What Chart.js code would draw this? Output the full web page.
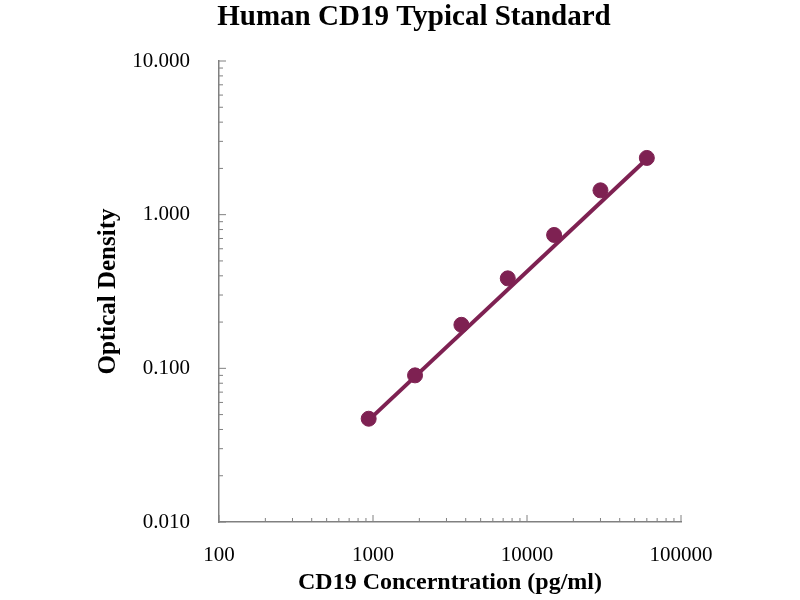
<!DOCTYPE html>
<html>
<head>
<meta charset="utf-8">
<script src="https://cdn.jsdelivr.net/npm/chart.js@4/dist/chart.umd.min.js"></script>
<style>
  html, body { margin: 0; padding: 0; background: #fff; }
</style>
</head>
<body>
<canvas id="grafica" width="800" height="600"></canvas>
<script>
// valores
const concentracion = [937.5, 1875, 3750, 7500, 15000, 30000, 60000];
const densidad = [0.047, 0.090, 0.192, 0.385, 0.738, 1.44, 2.34];
const tendenciaConc = [937.5, 60000];
const tendenciaOD = [0.046, 2.30];

const titulo = 'Human CD19 Typical Standard';
const tituloX = 'CD19 Concerntration (pg/ml)';
const tituloY = 'Optical Density';

const color = '#7e2152';
const serif = '"Liberation Serif", "Times New Roman", serif';

function esPotencia(v) {
  const l = Math.log10(v);
  return Math.abs(l - Math.round(l)) < 1e-9;
}

// marcas hacia adentro, como en el original
const marcasInternas = {
  id: 'marcasInternas',
  afterDraw(chart) {
    const { ctx, chartArea, scales } = chart;
    ctx.save();
    ctx.strokeStyle = '#808080';
    ctx.lineWidth = 1;
    const dibujar = (scale, vertical) => {
      const lo = Math.floor(Math.log10(scale.min));
      const hi = Math.ceil(Math.log10(scale.max));
      for (let e = lo; e <= hi; e++) {
        for (let m = 1; m <= 9; m++) {
          const v = m * Math.pow(10, e);
          if (v < scale.min * 0.999 || v > scale.max * 1.001) continue;
          const p = scale.getPixelForValue(v);
          const len = m === 1 ? 7 : 4;
          ctx.beginPath();
          if (vertical) {
            ctx.moveTo(chartArea.left, p);
            ctx.lineTo(chartArea.left + len, p);
          } else {
            ctx.moveTo(p, chartArea.bottom);
            ctx.lineTo(p, chartArea.bottom - len);
          }
          ctx.stroke();
        }
      }
    };
    dibujar(scales.x, false);
    dibujar(scales.y, true);
    ctx.restore();
  }
};

// el titulo va algo a la derecha del centro del canvas
const tituloCentrado = {
  id: 'tituloCentrado',
  afterDraw(chart) {
    const { ctx } = chart;
    ctx.save();
    ctx.fillStyle = '#000';
    ctx.font = 'bold 29px ' + serif;
    ctx.textAlign = 'center';
    ctx.textBaseline = 'alphabetic';
    ctx.fillText(titulo, 414, 25);
    ctx.restore();
  }
};

const puntos = concentracion.map((c, i) => ({ x: c, y: densidad[i] }));
const tendencia = tendenciaConc.map((c, i) => ({ x: c, y: tendenciaOD[i] }));

new Chart(document.getElementById('grafica'), {
  type: 'scatter',
  data: {
    datasets: [
      {
        label: 'Standard',
        data: puntos,
        backgroundColor: color,
        borderColor: color,
        pointRadius: 7.5,
        pointHoverRadius: 7.5,
        order: 1
      },
      {
        label: 'Trend',
        data: tendencia,
        showLine: true,
        borderColor: color,
        borderWidth: 4,
        pointRadius: 0,
        order: 2
      }
    ]
  },
  options: {
    responsive: false,
    animation: false,
    devicePixelRatio: 1,
    layout: { padding: { left: 0, right: 119, top: 61, bottom: 0 } },
    plugins: {
      legend: { display: false },
      tooltip: { enabled: false },
      title: { display: false }
    },
    scales: {
      x: {
        type: 'logarithmic',
        min: 100,
        max: 100000,
        grid: { display: false, drawTicks: false },
        border: { display: true, color: '#808080', width: 1.5 },
        ticks: {
          autoSkip: false,
          maxRotation: 0,
          padding: 21,
          color: '#000',
          font: { family: serif, size: 21 },
          callback: (v) => esPotencia(v) ? String(Math.round(v)) : ''
        },
        title: {
          display: true,
          text: tituloX,
          color: '#000',
          font: { family: serif, size: 24, weight: 'bold' },
          padding: { top: 4, bottom: 3 }
        },
        afterFit: (s) => { s.height = 78; }
      },
      y: {
        type: 'logarithmic',
        min: 0.01,
        max: 10,
        grid: { display: false, drawTicks: false },
        border: { display: true, color: '#808080', width: 1.5 },
        ticks: {
          autoSkip: false,
          padding: 29,
          color: '#000',
          font: { family: serif, size: 21 },
          callback: (v) => esPotencia(v) ? v.toFixed(3) : ''
        },
        title: {
          display: true,
          text: tituloY,
          color: '#000',
          font: { family: serif, size: 25, weight: 'bold' },
          padding: { top: 94, bottom: 0 }
        },
        afterFit: (s) => { s.width = 219; }
      }
    }
  },
  plugins: [marcasInternas, tituloCentrado]
});
</script>
</body>
</html>
